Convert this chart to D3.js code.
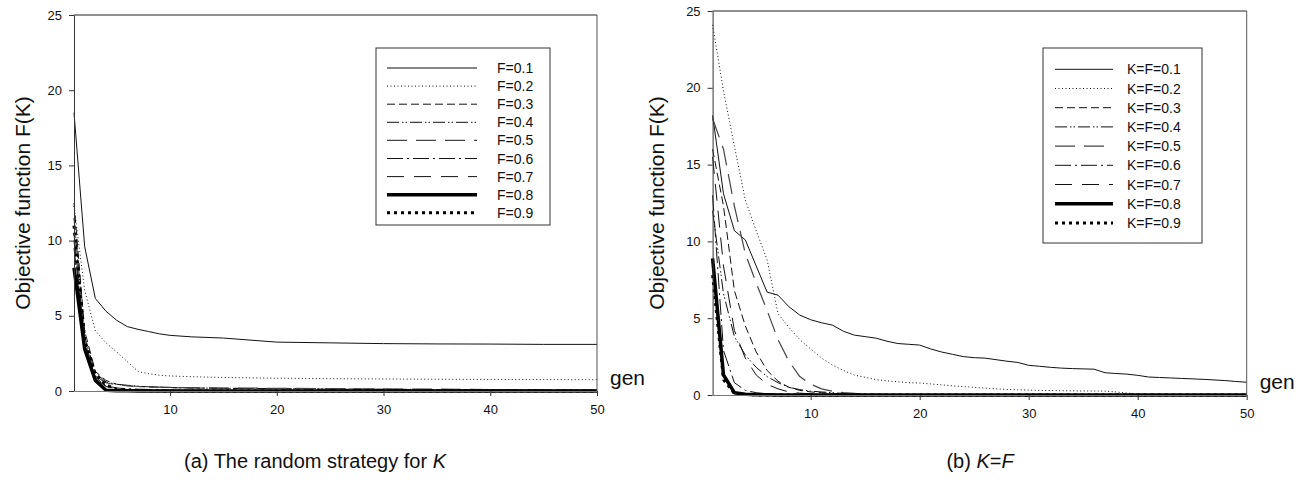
<!DOCTYPE html>
<html>
<head>
<meta charset="utf-8">
<script src="https://cdn.jsdelivr.net/npm/d3@7"></script>
<style>
  body { margin: 0; background: #fff; }
  text { font-family: "Liberation Sans", Arial, sans-serif; fill: #111; }
</style>
</head>
<body>
<div id="chart"></div>
<script>
// ---- datos ----
// panel (a): estrategia aleatoria para K
const gensA = [1, 2, 3, 4, 5, 6, 7, 8, 9, 10, 12, 15, 20, 25, 30, 35, 40, 45, 50];
const labelsA = ["F=0.1", "F=0.2", "F=0.3", "F=0.4", "F=0.5", "F=0.6", "F=0.7", "F=0.8", "F=0.9"];
const a01 = [18.5, 9.6, 6.15, 5.3, 4.7, 4.28, 4.1, 3.95, 3.8, 3.7, 3.6, 3.52, 3.25, 3.2, 3.15, 3.13, 3.12, 3.1, 3.1];
const a02 = [12.3, 6.7, 4.0, 3.2, 2.6, 1.95, 1.3, 1.15, 1.05, 1.0, 0.95, 0.9, 0.85, 0.82, 0.8, 0.78, 0.77, 0.76, 0.75];
const a03 = [12.5, 4.0, 1.3, 0.7, 0.45, 0.35, 0.3, 0.27, 0.25, 0.22, 0.2, 0.18, 0.15, 0.12, 0.1, 0.08, 0.06, 0.05, 0.05];
const a04 = [11.5, 3.6, 1.2, 0.6, 0.45, 0.38, 0.32, 0.28, 0.25, 0.23, 0.2, 0.18, 0.16, 0.14, 0.12, 0.1, 0.08, 0.06, 0.05];
const a05 = [10.5, 3.3, 1.0, 0.55, 0.4, 0.35, 0.3, 0.28, 0.26, 0.24, 0.22, 0.2, 0.18, 0.16, 0.14, 0.12, 0.1, 0.08, 0.06];
const a06 = [10.0, 3.1, 0.9, 0.35, 0.2, 0.15, 0.12, 0.1, 0.08, 0.06, 0.05, 0.04, 0.03, 0.02, 0.02, 0.02, 0.02, 0.02, 0.02];
const a07 = [9.5, 3.0, 0.8, 0.3, 0.15, 0.1, 0.08, 0.06, 0.05, 0.04, 0.03, 0.02, 0.02, 0.02, 0.02, 0.02, 0.02, 0.02, 0.02];
const a08 = [8.2, 2.8, 0.7, 0.05, 0.02, 0.01, 0, 0, 0, 0, 0, 0, 0, 0, 0, 0, 0, 0, 0];
const a09 = [11.0, 3.4, 1.1, 0.4, 0.12, 0.05, 0.03, 0.02, 0.01, 0, 0, 0, 0, 0, 0, 0, 0, 0, 0];

// panel (b): K=F
const gensB = [1, 2, 3, 4, 5, 6, 7, 8, 9, 10, 11, 12, 13, 14, 15, 16, 17, 18, 19, 20, 21, 22, 23, 24, 25,
  26, 27, 28, 29, 30, 31, 32, 33, 34, 35, 36, 37, 38, 39, 40, 41, 42, 43, 44, 45, 46, 47, 48, 49, 50];
const labelsB = ["K=F=0.1", "K=F=0.2", "K=F=0.3", "K=F=0.4", "K=F=0.5", "K=F=0.6", "K=F=0.7", "K=F=0.8", "K=F=0.9"];
const b01 = [18.2, 13.1, 10.7, 10.1, 8.4, 6.7, 6.5, 5.75, 5.2, 4.9, 4.7, 4.55, 4.15, 3.9, 3.8, 3.7, 3.5, 3.35, 3.3, 3.25, 3.0, 2.8, 2.65, 2.5, 2.43,
  2.4, 2.3, 2.2, 2.12, 1.93, 1.87, 1.8, 1.75, 1.72, 1.7, 1.68, 1.45, 1.4, 1.36, 1.28, 1.17, 1.14, 1.11, 1.08, 1.05, 1.02, 0.98, 0.94, 0.88, 0.83];
const b02 = [24.1, 19.8, 16.2, 12.7, 10.7, 8.8, 5.3, 4.4, 3.6, 3.0, 2.4, 1.95, 1.6, 1.3, 1.15, 1.0, 0.92, 0.86, 0.8, 0.78, 0.72, 0.66, 0.6, 0.55, 0.5,
  0.45, 0.4, 0.36, 0.34, 0.32, 0.3, 0.29, 0.28, 0.27, 0.26, 0.26, 0.25, 0.2, 0.13, 0.05, 0.03, 0.03, 0.02, 0.02, 0.02, 0.02, 0.02, 0.02, 0.02, 0.02];
const b03 = [16, 12.3, 6.8, 4.5, 2.8, 1.6, 0.9, 0.5, 0.3, 0.2, 0.15, 0.1, 0.06, 0.04, 0.02, 0.02, 0.01, 0.01, 0.01, 0.01, 0, 0, 0, 0, 0,
  0, 0, 0, 0, 0, 0, 0, 0, 0, 0, 0, 0, 0, 0, 0, 0, 0, 0, 0, 0, 0, 0, 0, 0, 0];
const b04 = [12, 6.6, 3.8, 2.6, 1.8, 1.2, 0.8, 0.5, 0.35, 0.25, 0.2, 0.15, 0.1, 0.06, 0.04, 0.02, 0.02, 0.01, 0.01, 0.01, 0, 0, 0, 0, 0,
  0, 0, 0, 0, 0, 0, 0, 0, 0, 0, 0, 0, 0, 0, 0, 0, 0, 0, 0, 0, 0, 0, 0, 0, 0];
const b05 = [18, 16, 12.3, 9.2, 7.3, 5.5, 3.6, 2.2, 1.2, 0.7, 0.4, 0.25, 0.15, 0.1, 0.06, 0.04, 0.02, 0.02, 0.01, 0.01, 0, 0, 0, 0, 0,
  0, 0, 0, 0, 0, 0, 0, 0, 0, 0, 0, 0, 0, 0, 0, 0, 0, 0, 0, 0, 0, 0, 0, 0, 0];
const b06 = [13, 2.9, 0.8, 0.3, 0.15, 0.08, 0.05, 0.03, 0.02, 0.01, 0, 0, 0, 0, 0, 0, 0, 0, 0, 0, 0, 0, 0, 0, 0,
  0, 0, 0, 0, 0, 0, 0, 0, 0, 0, 0, 0, 0, 0, 0, 0, 0, 0, 0, 0, 0, 0, 0, 0, 0];
const b07 = [15.5, 8.4, 4.2, 2.4, 1.3, 0.7, 0.4, 0.2, 0.12, 0.08, 0.05, 0.03, 0.02, 0.01, 0, 0, 0, 0, 0, 0, 0, 0, 0, 0, 0,
  0, 0, 0, 0, 0, 0, 0, 0, 0, 0, 0, 0, 0, 0, 0, 0, 0, 0, 0, 0, 0, 0, 0, 0, 0];
const b08 = [8.9, 1.3, 0.15, 0.05, 0.02, 0.01, 0, 0, 0, 0, 0, 0, 0, 0, 0, 0, 0, 0, 0, 0, 0, 0, 0, 0, 0,
  0, 0, 0, 0, 0, 0, 0, 0, 0, 0, 0, 0, 0, 0, 0, 0, 0, 0, 0, 0, 0, 0, 0, 0, 0];
const b09 = [7.8, 1.0, 0.1, 0.03, 0.01, 0, 0, 0, 0, 0, 0, 0, 0, 0, 0, 0, 0, 0, 0, 0, 0, 0, 0, 0, 0,
  0, 0, 0, 0, 0, 0, 0, 0, 0, 0, 0, 0, 0, 0, 0, 0, 0, 0, 0, 0, 0, 0, 0, 0, 0];

const yTicks = [0, 5, 10, 15, 20, 25];
const xTicks = [10, 20, 30, 40, 50];

// estilos de linea (uno por serie, mismo orden en los dos paneles)
const lineStyles = [
  { dash: null, width: 1, color: "#111" },
  { dash: "1,2.5", width: 1, color: "#111" },
  { dash: "8,4", width: 1, color: "#111" },
  { dash: "12,3,1.5,2,1.5,3", width: 1, color: "#111" },
  { dash: "20,9", width: 1.2, color: "#444" },
  { dash: "16,4,2,4", width: 1, color: "#111" },
  { dash: "17,10", width: 1, color: "#111" },
  { dash: null, width: 3.5, color: "#000" },
  { dash: "3,4", width: 3, color: "#000" },
];

const width = 1313;
const height = 480;

const svg = d3
  .select("#chart")
  .append("svg")
  .attr("width", width)
  .attr("height", height);

svg.append("rect").attr("width", width).attr("height", height).attr("fill", "#fff");

function drawPanel(p) {
  const x = d3.scaleLinear().domain([1, 50]).range([p.left, p.right]);
  const y = d3.scaleLinear().domain([0, 25]).range([p.bottom, p.top]);
  const g = svg.append("g");

  // lineas de datos
  const line = d3.line().x((d) => x(d[0])).y((d) => y(d[1]));
  p.series.forEach((vals, i) => {
    const st = lineStyles[i];
    g.append("path")
      .datum(p.gens.map((gv, j) => [gv, vals[j]]))
      .attr("d", line)
      .attr("fill", "none")
      .attr("stroke", st.color)
      .attr("stroke-width", st.width)
      .attr("stroke-dasharray", st.dash)
      .attr("stroke-linejoin", "round");
  });

  // marco
  g.append("line").attr("x1", p.left).attr("x2", p.right).attr("y1", p.top).attr("y2", p.top).attr("stroke", "#222");
  g.append("line").attr("x1", p.right).attr("x2", p.right).attr("y1", p.top).attr("y2", p.bottom).attr("stroke", "#555");

  // ejes
  const yAxis = g.append("g")
    .attr("transform", `translate(${p.left},0)`)
    .call(d3.axisLeft(y).tickValues(yTicks).tickSize(5).tickPadding(7).tickSizeOuter(0));
  const xAxis = g.append("g")
    .attr("transform", `translate(0,${p.bottom})`)
    .call(d3.axisBottom(x).tickValues(xTicks).tickSize(5).tickPadding(9).tickSizeOuter(0));
  [yAxis, xAxis].forEach((ax) => {
    ax.select(".domain").attr("stroke", "#333");
    ax.selectAll(".tick line").attr("stroke", "#333");
    ax.selectAll("text").style("font-size", "13px").style("font-family", '"Liberation Sans", Arial, sans-serif').attr("fill", "#111");
  });
  xAxis.select(".domain").attr("stroke", "#777");

  // titulos
  g.append("text")
    .attr("transform", `translate(${p.yTitleX},${(p.top + p.bottom) / 2}) rotate(-90)`)
    .attr("text-anchor", "middle")
    .style("font-size", "21px")
    .text("Objective function F(K)");
  g.append("text")
    .attr("x", p.right + 13)
    .attr("y", p.bottom - 6)
    .style("font-size", "21px")
    .text("gen");

  // leyenda
  const lg = g.append("g");
  lg.append("rect")
    .attr("x", p.legend.x0).attr("y", p.legend.y0)
    .attr("width", p.legend.x1 - p.legend.x0).attr("height", p.legend.y1 - p.legend.y0)
    .attr("fill", "#fff").attr("stroke", "#333");
  p.labels.forEach((lab, i) => {
    const st = lineStyles[i];
    const cy = p.legend.row0 + i * p.legend.step;
    lg.append("line")
      .attr("x1", p.legend.lx0).attr("x2", p.legend.lx1)
      .attr("y1", cy).attr("y2", cy)
      .attr("stroke", st.color)
      .attr("stroke-width", st.width)
      .attr("stroke-dasharray", st.dash);
    lg.append("text")
      .attr("x", p.legend.tx)
      .attr("y", cy + 5)
      .style("font-size", "14px")
      .text(lab);
  });

  // pie de figura
  const cap = g.append("text")
    .attr("x", p.capX)
    .attr("y", 468)
    .attr("text-anchor", "middle")
    .style("font-size", "20px");
  p.caption.forEach((part) => {
    cap.append("tspan").style("font-style", part.italic ? "italic" : "normal").text(part.t);
  });
}

drawPanel({
  left: 74, right: 597, top: 15, bottom: 391,
  gens: gensA,
  series: [a01, a02, a03, a04, a05, a06, a07, a08, a09],
  labels: labelsA,
  yTitleX: 30,
  legend: { x0: 376, x1: 550, y0: 48, y1: 225, row0: 68, step: 18.1, lx0: 387, lx1: 477, tx: 497 },
  capX: 315,
  caption: [{ t: "(a) The random strategy for " }, { t: "K", italic: true }],
});

drawPanel({
  left: 712.6, right: 1246.7, top: 11, bottom: 395,
  gens: gensB,
  series: [b01, b02, b03, b04, b05, b06, b07, b08, b09],
  labels: labelsB,
  yTitleX: 664,
  legend: { x0: 1043, x1: 1202, y0: 48, y1: 243, row0: 69.3, step: 19.2, lx0: 1055, lx1: 1113, tx: 1127 },
  capX: 980,
  caption: [{ t: "(b) " }, { t: "K", italic: true }, { t: "=" }, { t: "F", italic: true }],
});
</script>
</body>
</html>
